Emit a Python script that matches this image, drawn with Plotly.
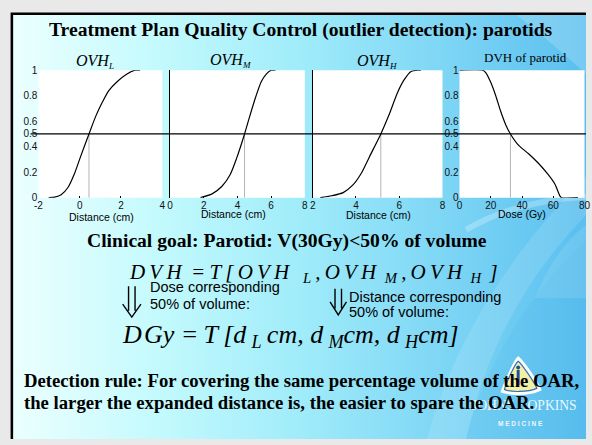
import base64
import plotly.graph_objects as go

W, H = 592, 445

# ---------------------------------------------------------------------------
# Data: overlap volume histograms (fraction of parotid volume vs. expanded
# distance) and the dose volume histogram of the parotid.
# ---------------------------------------------------------------------------
ovh_l_dist = [-1.5, -1.2, -0.9, -0.57, -0.25, 0.06, 0.45, 0.78, 1.1, 1.41, 1.81, 2.29, 2.68, 2.92]
ovh_l_frac = [0.0, 0.005, 0.023, 0.08, 0.19, 0.33, 0.5, 0.64, 0.75, 0.84, 0.91, 0.97, 1.0, 1.0]

ovh_m_dist = [1.8, 2.49, 3.08, 3.56, 3.95, 4.42, 4.73, 5.08, 5.41, 5.71, 6.0, 6.25]
ovh_m_frac = [0.0, 0.03, 0.09, 0.18, 0.31, 0.5, 0.64, 0.79, 0.91, 0.97, 1.0, 1.0]

ovh_h_dist = [2.35, 2.88, 3.41, 3.86, 4.24, 4.62, 5.15, 5.53, 5.91, 6.21, 6.55, 6.9, 7.0]
ovh_h_frac = [0.0, 0.015, 0.04, 0.10, 0.19, 0.32, 0.5, 0.65, 0.82, 0.92, 0.99, 1.0, 1.0]

dvh_dose = [0, 14.8, 16.9, 20.0, 23.2, 26.3, 29.5, 32.6, 37.9, 44.2, 50.5, 56.8, 61.1, 64.2, 65.3, 75.8]
dvh_vol = [1.0, 1.0, 0.98, 0.905, 0.80, 0.68, 0.575, 0.5, 0.41, 0.345, 0.27, 0.18, 0.105, 0.015, 0.0, 0.0]

# distance / dose at which 50% of the volume is reached
d_l, d_m, d_h = 0.45, 4.42, 5.15
dose_50 = 32.6
half_volume = 0.5

frac_ticks = [0, 0.2, 0.4, 0.5, 0.6, 0.8, 1]
frac_tick_text = ["0", "0.2", "0.4", "0.5", "0.6", "0.8", "1"]
dist_ticks_l = [-2, 0, 2, 4]
dist_ticks_m = [0, 2, 4, 6, 8]
dist_ticks_h = [2, 4, 6, 8]
dose_ticks = [0, 20, 40, 60, 80]

SERIF = "Liberation Serif, Times New Roman, serif"
SANS = "Liberation Sans, Arial, sans-serif"
TS = "\u2009"  # thin space
HS = "\u200a"  # hair space


def px(x):
    return x / W


def py(y):
    return 1 - y / H


# ---------------------------------------------------------------------------
# Slide background: sky gradient, decorative arcs, frame and crest
# ---------------------------------------------------------------------------
bg_svg = f"""<svg xmlns="http://www.w3.org/2000/svg" width="{W}" height="{H}" viewBox="0 0 {W} {H}" preserveAspectRatio="none">
<defs>
<linearGradient id="sky" x1="0" y1="0" x2="1" y2="0">
<stop offset="0" stop-color="#ecffff"/>
<stop offset="0.25" stop-color="#c4fafd"/>
<stop offset="0.5" stop-color="#a0ecfa"/>
<stop offset="0.75" stop-color="#7ed6f5"/>
<stop offset="1" stop-color="#5abfef"/>
</linearGradient>
</defs>
<rect width="{W}" height="{H}" fill="#e9e9e9"/>
<rect x="8" y="8" width="{W - 8}" height="{H - 8}" fill="url(#sky)"/>
<path d="M520,8 L592,8 L592,70 Q560,40 520,8 Z" fill="#ffffff" fill-opacity="0.18"/>
<path d="M430,445 Q470,300 592,175 L592,215 Q500,310 470,445 Z" fill="#ffffff" fill-opacity="0.12"/>
<path d="M470,445 Q500,330 592,240 L592,445 Z" fill="#3aa8e6" fill-opacity="0.10"/>
<path d="M540,300 Q560,250 592,225 L592,300 Z" fill="#ffffff" fill-opacity="0.10"/>
<path d="M470,230 Q520,200 592,196" fill="none" stroke="#ffffff" stroke-opacity="0.25" stroke-width="6"/>
<path d="M8,{H} L8,8 L{W},8" fill="none" stroke="#000000" stroke-width="2.6"/>
<path d="M523,360 C527,362 544,386 547,395 C536,401 516,401 505,397 C508,388 519,362 523,360 Z" fill="#ffffff"/>
<path d="M523,365 C526,367 540,387 542,393 C533,397 514,397 509,394 C511,387 520,367 523,365 Z" fill="#f3efa6" stroke="#2f6fb8" stroke-width="1.2"/>
<path d="M521.5,374 L524.5,374 L524.5,390 L521.5,390 Z" fill="#1f4f9a"/>
<circle cx="523" cy="371.5" r="2" fill="#1f4f9a"/>
</svg>"""
bg_uri = "data:image/svg+xml;base64," + base64.b64encode(bg_svg.encode("utf-8")).decode("ascii")

# ---------------------------------------------------------------------------
# Panels (pixel boxes of the plot areas)
# ---------------------------------------------------------------------------
top_px, bottom_px = 66, 197
panels = [
    dict(x=ovh_l_dist, y=ovh_l_frac, mid=d_l, box=(35, 161), rng=[-2, 4], ticks=dist_ticks_l, ylabels=True, yline=False),
    dict(x=ovh_m_dist, y=ovh_m_frac, mid=d_m, box=(169, 306), rng=[0, 8], ticks=dist_ticks_m, ylabels=False, yline=True),
    dict(x=ovh_h_dist, y=ovh_h_frac, mid=d_h, box=(314, 446), rng=[2, 8], ticks=dist_ticks_h, ylabels=False, yline=True),
    dict(x=dvh_dose, y=dvh_vol, mid=dose_50, box=(463.3, 590.5), rng=[0, 80], ticks=dose_ticks, ylabels=True, yline=False),
]

fig = go.Figure()
shapes = []
layout_axes = {}
for i, p in enumerate(panels, start=1):
    xa = "x" if i == 1 else f"x{i}"
    ya = "y" if i == 1 else f"y{i}"
    # 50% drop line
    fig.add_trace(go.Scatter(
        x=[p["mid"], p["mid"]], y=[0, half_volume], xaxis=xa, yaxis=ya,
        mode="lines", line=dict(color="#b4b4b4", width=1), hoverinfo="skip", showlegend=False))
    # histogram curve
    fig.add_trace(go.Scatter(
        x=p["x"], y=p["y"], xaxis=xa, yaxis=ya, mode="lines",
        line=dict(color="black", width=1.2, shape="spline", smoothing=0.7),
        showlegend=False))
    layout_axes["xaxis" if i == 1 else f"xaxis{i}"] = dict(
        domain=[px(p["box"][0]), px(p["box"][1])], range=p["rng"], anchor=ya,
        tickvals=p["ticks"], ticktext=[str(t) for t in p["ticks"]],
        ticks="inside", ticklen=2, tickcolor="black", showgrid=False, zeroline=False,
        showline=False, ticklabeloverflow="allow",
        tickfont=dict(family=SANS, size=10, color="#111111"))
    layout_axes["yaxis" if i == 1 else f"yaxis{i}"] = dict(
        domain=[py(bottom_px), py(top_px)], range=[0, 1], anchor=xa,
        tickvals=frac_ticks, ticktext=frac_tick_text, showticklabels=p["ylabels"],
        ticks="", showgrid=False, zeroline=False, showline=p["yline"], linecolor="black", linewidth=1.3,
        tickfont=dict(family=SANS, size=10, color="#111111"))
    # white plotting area
    shapes.append(dict(type="rect", xref=f"{xa} domain", yref=f"{ya} domain", x0=0, x1=1, y0=0, y1=1,
                       fillcolor="white", line=dict(width=0), layer="below"))

# horizontal 50% volume line across all panels
shapes.append(dict(type="line", xref="paper", yref="y", x0=px(27), x1=1, y0=half_volume, y1=half_volume,
                   line=dict(color="black", width=1.3)))


# double down arrows
def double_arrow(cx, top, bottom, half_w=9.3, gap=3.3):
    head = bottom - 13.4
    d = (f"M{px(cx - gap)},{py(top)} L{px(cx - gap)},{py(bottom - 6.5)} "
         f"M{px(cx + gap)},{py(top)} L{px(cx + gap)},{py(bottom - 6.5)} "
         f"M{px(cx - half_w)},{py(head)} L{px(cx)},{py(bottom)} L{px(cx + half_w)},{py(head)}")
    return dict(type="path", xref="paper", yref="paper", path=d, line=dict(color="black", width=1.4))


shapes.append(double_arrow(130, 288, 319.7))
shapes.append(double_arrow(340, 290.7, 317.5, half_w=8.3, gap=3.3))


def label(text, x, y, size, family=SERIF, color="black", xanchor="center", italic=False):
    if xanchor == "left":
        x -= 2
    return dict(text=text, x=px(x), y=py(y), xref="paper", yref="paper", xanchor=xanchor, yanchor="middle",
                showarrow=False, borderpad=0, borderwidth=0,
                font=dict(family=family, size=size, color=color, style="italic" if italic else "normal"))


def small_sub(s, size):
    return f"<sub><span style='font-size:{size}px'>{s}</span></sub>"


eq1 = (f"D{TS}V{TS}H {TS}={TS}T{TS}[{TS}O{TS}V{TS}H {TS}{TS}<sub>L</sub>{TS},{TS}"
       f"O{TS}V{TS}H{TS}{TS}<sub>M</sub>{TS},{TS}O{TS}V{TS}H{TS}{TS}<sub>H</sub>{TS}{TS}]")
eq2 = (f"D{HS}Gy ={TS}T{TS}[d{TS}<sub>L</sub>{TS}cm, d{TS}<sub>M</sub>cm, "
       f"d{TS}<sub>H</sub>cm]")

annotations = [
    # crest lettering
    label("JOHNS HOPKINS", 529.5, 411, 13.6, color="rgba(255,255,255,0.9)"),
    label("<b>M E D I C I N E</b>", 525, 429, 6.5, family=SANS, color="rgba(255,255,255,0.9)"),
    label("<b>Treatment Plan Quality Control (outlier detection): parotids</b>", 302.2, 24.2, 19.6),
    label("OVH" + small_sub("L", 9), 92.5, 57.5, 16, italic=True),
    label("OVH" + small_sub("M", 9), 230, 56, 16, italic=True),
    label("OVH" + small_sub("H", 9), 379.5, 57.5, 16, italic=True),
    label("DVH of parotid", 530.3, 53.3, 13),
    label("Distance (cm)", 98.8, 216.5, 10.5, family=SANS),
    label("Distance (cm)", 233.8, 213.5, 10.5, family=SANS),
    label("Distance (cm)", 380.8, 215.3, 10.5, family=SANS),
    label("Dose (Gy)", 526.7, 213.3, 10.5, family=SANS),
    label("<b>Clinical goal: Parotid: V(30Gy)&lt;50% of volume</b>", 287.8, 241.3, 19.6),
    label(eq1, 129.3, 274, 21, xanchor="left", italic=True),
    label("Dose corresponding", 150, 288.5, 14.5, family=SANS, xanchor="left"),
    label("50% of volume:", 150, 306, 14.5, family=SANS, xanchor="left"),
    label("Distance corresponding", 353.3, 299, 14.5, family=SANS, xanchor="left"),
    label("50% of volume:", 353.3, 314.7, 14.5, family=SANS, xanchor="left"),
    label(eq2, 121.7, 339, 26, xanchor="left", italic=True),
    label("<b>Detection rule: For covering the same percentage volume of the OAR,</b>", 22.7, 385.3, 18.7,
          xanchor="left"),
    label("<b>the larger the expanded distance is, the easier to spare the OAR.</b>", 22.7, 407, 18.7,
          xanchor="left"),
]

fig.update_layout(
    width=W, height=H, margin=dict(l=0, r=0, t=0, b=0), autosize=False,
    paper_bgcolor="#e9e9e9", plot_bgcolor="rgba(0,0,0,0)",
    showlegend=False, shapes=shapes, annotations=annotations,
    images=[dict(source=bg_uri, xref="paper", yref="paper", x=0, y=1, sizex=1, sizey=1,
                 xanchor="left", yanchor="top", sizing="stretch", layer="below")],
    **layout_axes,
)

fig.write_html("out.html")
